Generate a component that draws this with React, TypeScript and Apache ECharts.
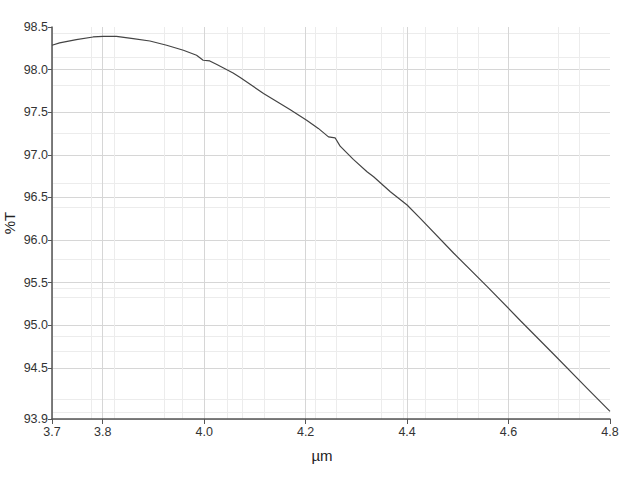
import React, { useEffect, useRef } from "react";
import * as echarts from "echarts";

// wavelength (µm) and transmittance (%T)
const wavelength = [
  3.7, 3.715, 3.748, 3.781, 3.801, 3.827, 3.86, 3.893, 3.926, 3.959, 3.985, 3.998, 4.011, 4.025,
  4.057, 4.071, 4.117, 4.169, 4.202, 4.225, 4.245, 4.258, 4.268, 4.294, 4.321, 4.334, 4.367, 4.4,
  4.426, 4.492, 4.558, 4.624, 4.689, 4.755, 4.8,
];
const transmittance = [
  98.286, 98.313, 98.352, 98.383, 98.391, 98.391, 98.364, 98.336, 98.286, 98.227, 98.168, 98.11,
  98.102, 98.059, 97.961, 97.907, 97.72, 97.532, 97.407, 97.31, 97.211, 97.2, 97.102, 96.946,
  96.801, 96.743, 96.567, 96.411, 96.255, 95.845, 95.454, 95.05, 94.66, 94.26, 93.989,
];

const xTickLabels = [3.7, 3.8, 4.0, 4.2, 4.4, 4.6, 4.8];
const yTickLabels = [93.9, 94.5, 95.0, 95.5, 96.0, 96.5, 97.0, 97.5, 98.0, 98.5];
// the faint in-between grid lines
const xMinorGrid = [
  3.778, 3.822, 3.921, 3.956, 4.045, 4.075, 4.118, 4.219, 4.26, 4.349, 4.393, 4.436, 4.499, 4.541,
  4.697, 4.739,
];
const yMinorGrid = [
  98.43, 98.15, 97.82, 97.25, 96.67, 96.38, 95.77, 95.44, 95.33, 94.87, 94.69, 94.13, 93.98,
];

const FONT = "'Liberation Sans', Arial, sans-serif";

export default function App() {
  const chartRef = useRef<HTMLDivElement>(null);

  useEffect(() => {
    document.body.style.margin = "0";
    if (!chartRef.current) return;
    const chart = echarts.init(chartRef.current, null, { renderer: "svg" });

    chart.setOption({
      animation: false,
      backgroundColor: "#ffffff",
      grid: { left: 52, right: 30, top: 27, bottom: 61, containLabel: false, outerBoundsMode: "none" },
      xAxis: [
        {
          type: "value",
          min: 3.7,
          max: 4.8,
          name: "µm",
          nameLocation: "middle",
          nameGap: 29,
          nameTextStyle: { fontFamily: FONT, fontSize: 15, color: "#222", padding: [0, 18, 0, 0] },
          axisLine: { show: true, onZero: false, lineStyle: { color: "#555", width: 1.5 } },
          axisTick: { show: true, length: 5, customValues: xTickLabels, lineStyle: { color: "#555" } },
          axisLabel: {
            customValues: xTickLabels,
            showMinLabel: true,
            showMaxLabel: true,
            margin: 6,
            fontFamily: FONT,
            fontSize: 12.5,
            color: "#333",
            formatter: (v: number) => v.toFixed(1),
          },
          splitLine: { show: true, showMaxLine: false, lineStyle: { color: "#d6d6d6", width: 1 } },
        },
        {
          type: "value",
          min: 3.7,
          max: 4.8,
          axisLine: { show: false },
          axisLabel: { show: false },
          axisTick: { show: false, customValues: xMinorGrid },
          splitLine: { show: true, lineStyle: { color: "#ececec", width: 1 } },
        },
      ],
      yAxis: [
        {
          type: "value",
          min: 93.9,
          max: 98.5,
          name: "%T",
          nameLocation: "middle",
          nameRotate: 90,
          nameGap: 35,
          nameMoveOverlap: false,
          nameTextStyle: { fontFamily: FONT, fontSize: 15, color: "#222" },
          axisLine: { show: true, onZero: false, lineStyle: { color: "#555", width: 1.5 } },
          axisTick: { show: true, length: 4, customValues: yTickLabels, lineStyle: { color: "#555" } },
          axisLabel: {
            customValues: yTickLabels,
            showMinLabel: true,
            showMaxLabel: true,
            margin: 4,
            fontFamily: FONT,
            fontSize: 12.5,
            color: "#333",
            formatter: (v: number) => v.toFixed(1),
          },
          splitLine: { show: true, showMaxLine: false, lineStyle: { color: "#d6d6d6", width: 1 } },
        },
        {
          type: "value",
          min: 93.9,
          max: 98.5,
          position: "left",
          axisLine: { show: false },
          axisLabel: { show: false },
          axisTick: { show: false, customValues: yMinorGrid },
          splitLine: { show: true, lineStyle: { color: "#ececec", width: 1 } },
        },
      ],
      series: [
        {
          type: "line",
          xAxisIndex: 0,
          yAxisIndex: 0,
          data: wavelength.map((w, i) => [w, transmittance[i]]),
          showSymbol: false,
          symbol: "none",
          smooth: false,
          lineStyle: { color: "#444", width: 1.2 },
          z: 5,
        },
      ],
    });

    return () => {
      chart.dispose();
    };
  }, []);

  return <div ref={chartRef} style={{ width: "640px", height: "480px" }} />;
}
